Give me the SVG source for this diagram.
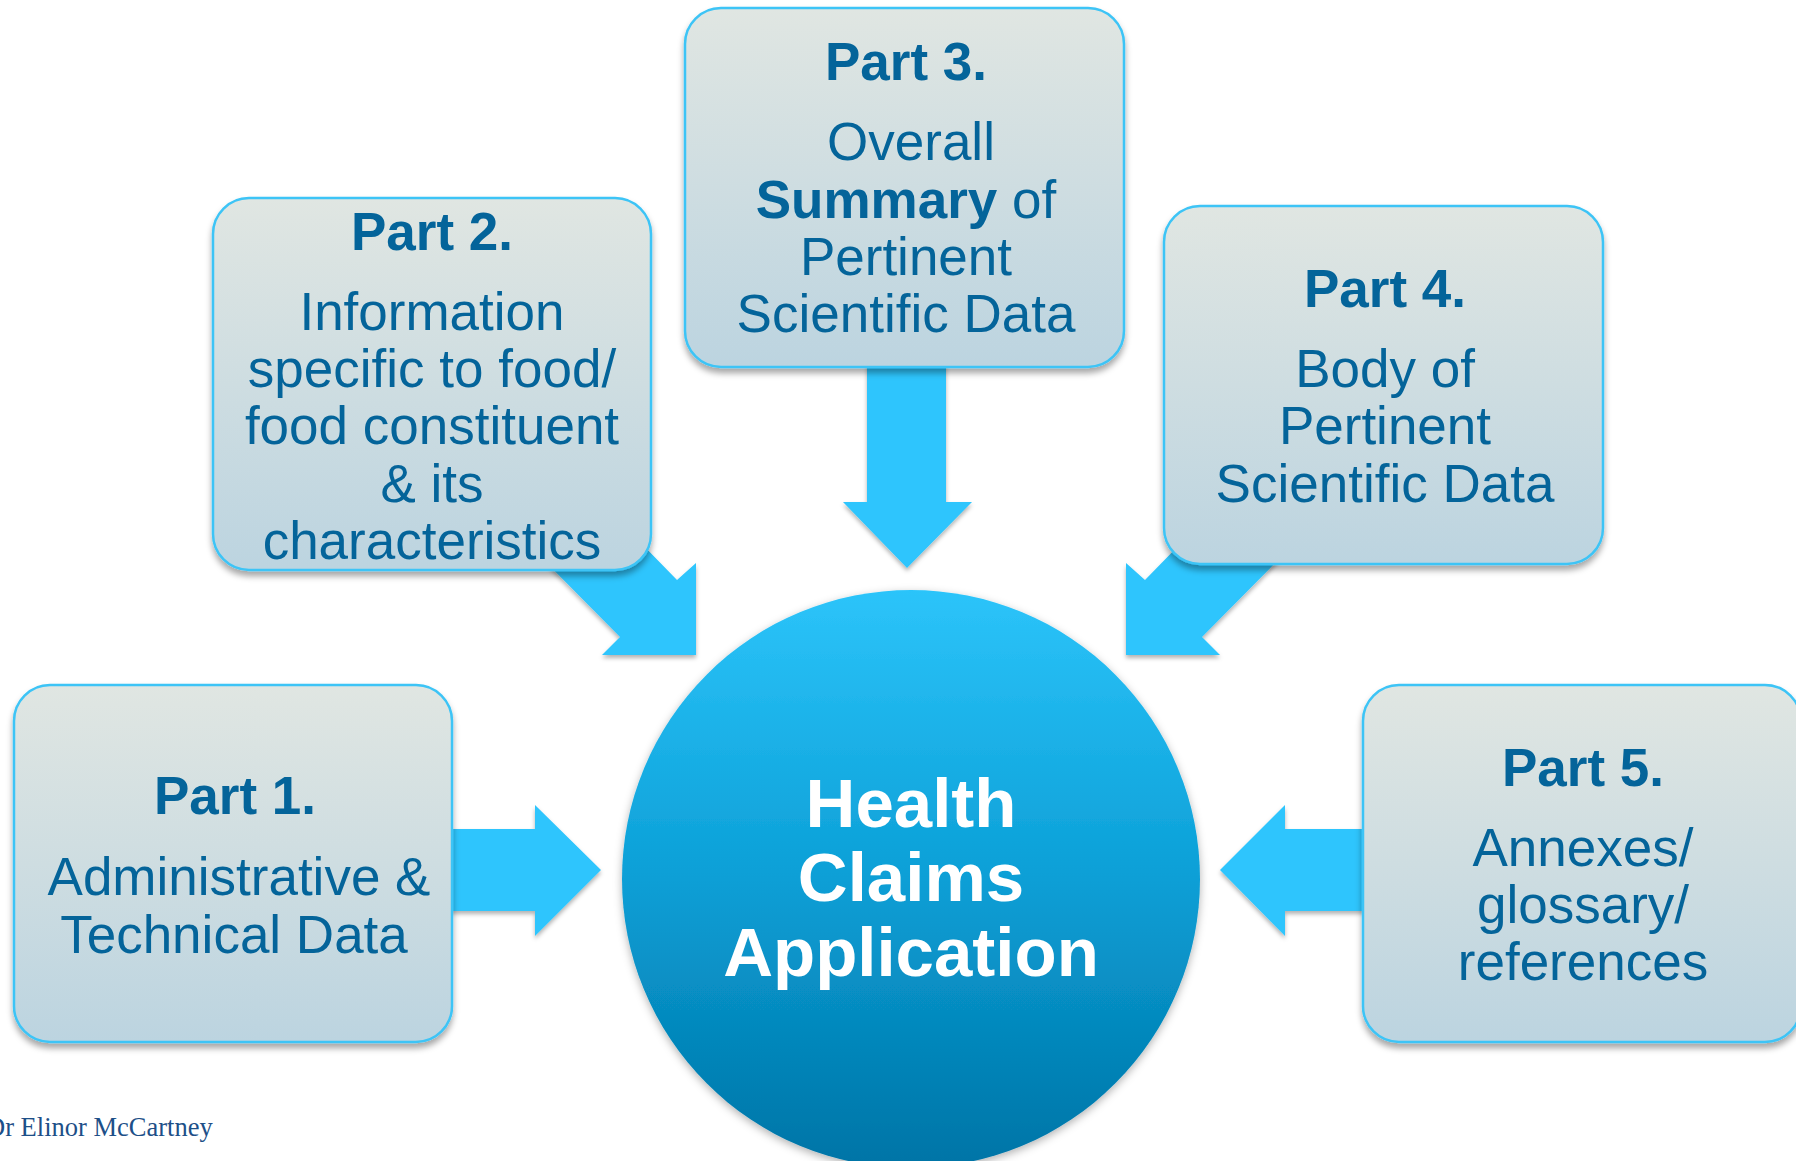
<svg xmlns="http://www.w3.org/2000/svg" width="1796" height="1161" viewBox="0 0 1796 1161">
  <defs>
    <linearGradient id="boxFill" x1="0" y1="0" x2="0" y2="1">
      <stop offset="0" stop-color="#e0e6e2"/>
      <stop offset="1" stop-color="#bcd4e0"/>
    </linearGradient>
    <linearGradient id="hubFill" x1="0" y1="0" x2="0" y2="1">
      <stop offset="0" stop-color="#2cc4fa"/>
      <stop offset="0.5" stop-color="#0b9fd6"/>
      <stop offset="1" stop-color="#0074a6"/>
    </linearGradient>
    <filter id="boxShadow" x="-10%" y="-10%" width="120%" height="125%">
      <feDropShadow dx="0" dy="5" stdDeviation="3" flood-color="#000" flood-opacity="0.35"/>
    </filter>
    <filter id="hubShadow" x="-10%" y="-10%" width="120%" height="120%">
      <feDropShadow dx="0" dy="3" stdDeviation="4" flood-color="#000" flood-opacity="0.3"/>
    </filter>
    <filter id="arrowShadow" x="-10%" y="-10%" width="120%" height="125%">
      <feDropShadow dx="0" dy="3" stdDeviation="2" flood-color="#000" flood-opacity="0.3"/>
    </filter>
  </defs>
  <style>
    .box { fill: url(#boxFill); stroke: #3cc4f6; stroke-width: 2.5; filter: url(#boxShadow); }
    .arrow { fill: #2ec5fd; filter: url(#arrowShadow); }
    .label { font-family: "Liberation Sans", Arial, sans-serif; font-size: 53px; fill: #04649a; text-anchor: middle; }
    .title { font-weight: bold; font-size: 53px; }
    .b { font-weight: bold; }
    .hubtext { font-family: "Liberation Sans", Arial, sans-serif; font-size: 69px; font-weight: bold; fill: #ffffff; text-anchor: middle; }
    .credit { font-family: "Liberation Serif", "Times New Roman", serif; font-size: 26.5px; fill: #1d4f88; }
  </style>

  <rect width="1796" height="1161" fill="#ffffff"/>

  <!-- block arrows feeding the central hub -->
  <g id="connectors">
    <path class="arrow" d="M440,829 L535,829 L535,805 L601,870 L535,936 L535,911 L440,911 Z"/>
    <path class="arrow" d="M638,540 L677,580 L696,563 L696,655 L602,655 L620,637 L524,540 Z"/>
    <path class="arrow" d="M867,355 L946,355 L946,502 L972,502 L907,568 L843,502 L867,502 Z"/>
    <path class="arrow" d="M1184,540 L1145,580 L1126,563 L1126,655 L1220,655 L1202,637 L1298,540 Z"/>
    <path class="arrow" d="M1375,829 L1285,829 L1285,805 L1220,870 L1285,936 L1285,911 L1375,911 Z"/>
  </g>

  <g id="hub">
    <circle cx="911" cy="879" r="289" fill="url(#hubFill)" filter="url(#hubShadow)"/>
    <text class="hubtext" x="911" y="827">Health</text>
    <text class="hubtext" x="911" y="901">Claims</text>
    <text class="hubtext" x="911" y="976">Application</text>
  </g>

  <g id="part1">
    <rect class="box" x="14" y="685" width="438" height="357" rx="36"/>
    <text class="label title" x="235" y="814">Part 1.</text>
    <text class="label" x="239" y="895">Administrative &amp;</text>
    <text class="label" x="234" y="953">Technical Data</text>
  </g>

  <g id="part2">
    <rect class="box" x="213" y="198" width="438" height="372" rx="36"/>
    <text class="label title" x="432" y="250">Part 2.</text>
    <text class="label" x="432" y="330">Information</text>
    <text class="label" x="432" y="387">specific to food/</text>
    <text class="label" x="432" y="444">food constituent</text>
    <text class="label" x="432" y="502">&amp; its</text>
    <text class="label" x="432" y="559">characteristics</text>
  </g>

  <g id="part3">
    <rect class="box" x="685" y="8" width="439" height="359" rx="36"/>
    <text class="label title" x="906" y="80">Part 3.</text>
    <text class="label" x="911" y="160">Overall</text>
    <text class="label" x="906" y="218"><tspan class="b">Summary</tspan> of</text>
    <text class="label" x="906" y="275">Pertinent</text>
    <text class="label" x="906" y="332">Scientific Data</text>
  </g>

  <g id="part4">
    <rect class="box" x="1164" y="206" width="439" height="358" rx="36"/>
    <text class="label title" x="1385" y="307">Part 4.</text>
    <text class="label" x="1385" y="387">Body of</text>
    <text class="label" x="1385" y="444">Pertinent</text>
    <text class="label" x="1385" y="502">Scientific Data</text>
  </g>

  <g id="part5">
    <rect class="box" x="1363" y="685" width="438" height="357" rx="36"/>
    <text class="label title" x="1583" y="786">Part 5.</text>
    <text class="label" x="1583" y="866">Annexes/</text>
    <text class="label" x="1583" y="923">glossary/</text>
    <text class="label" x="1583" y="980">references</text>
  </g>

  <text class="credit" x="-14" y="1136">Dr Elinor McCartney</text>
</svg>
